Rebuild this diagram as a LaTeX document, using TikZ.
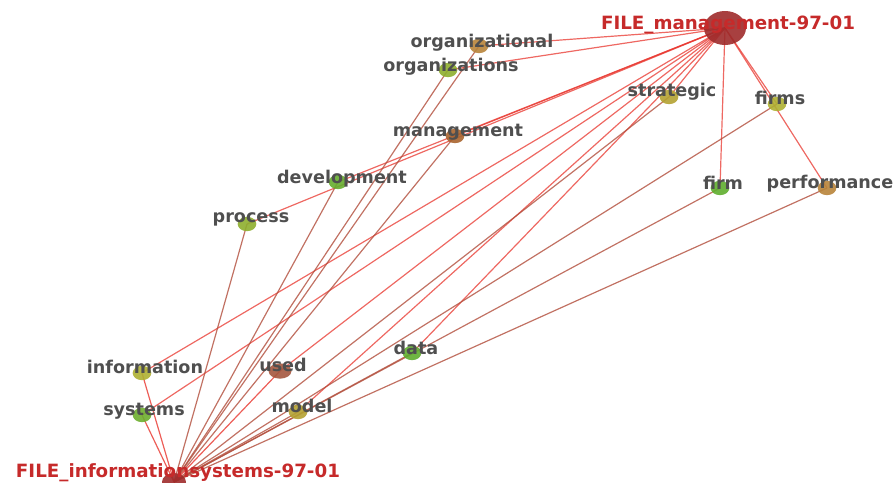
\documentclass[tikz,border=0pt]{standalone}
\usepackage{fontspec}
\setmainfont{DejaVu Sans}
\usetikzlibrary{shapes.geometric,backgrounds}
\definecolor{docDot}{HTML}{9E2B2B}
\definecolor{docText}{HTML}{C62A2A}
\definecolor{lblGray}{HTML}{4F4F4F}
\definecolor{edgeRed}{HTML}{E8362E}
\definecolor{edgeBrown}{HTML}{B24E3C}
\definecolor{cBrown}{HTML}{A8642E}
\definecolor{cOrange}{HTML}{B8843A}
\definecolor{cOlive}{HTML}{B4A232}
\definecolor{cYellow}{HTML}{AEB032}
\definecolor{cLime}{HTML}{8EAE2E}
\definecolor{cGreen}{HTML}{5FAE2E}
\definecolor{cRust}{HTML}{A4573E}
\tikzset{
  term/.style={ellipse, draw=none, inner sep=0pt, minimum width=5.6mm, minimum height=4.3mm, fill opacity=.9},
  doc/.style={term, fill=docDot, minimum width=12.6mm, minimum height=10.2mm},
  lbl/.style={anchor=base, inner sep=0pt, text=lblGray, font=\bfseries\fontsize{15}{18}\selectfont},
  doclbl/.style={lbl, text=docText, font=\bfseries\fontsize{15.6}{18}\selectfont},
  toM/.style={draw=edgeRed, draw opacity=.75, line width=.36mm},
  toI/.style={draw=edgeBrown, draw opacity=.8, line width=.36mm},
  toIr/.style={draw=edgeRed, draw opacity=.8, line width=.36mm},
}
\begin{document}
\begin{tikzpicture}[x=0.3mm,y=-0.3mm]
\useasboundingbox (0,0) rectangle (895,482);
% documents
\node[doc] (fm) at (725,28) {};
\node[doc, minimum width=7.2mm, minimum height=5.4mm] (fi) at (174,482) {};
% terms
\node[term, fill=cOrange] (organizational) at (479,46) {};
\node[term, fill=cLime] (organizations) at (448,70) {};
\node[term, fill=cOlive] (strategic) at (669,97) {};
\node[term, fill=cYellow] (firms) at (777,104) {};
\node[term, fill=cBrown] (management) at (455,136) {};
\node[term, fill=cGreen!85!cLime] (development) at (338,182) {};
\node[term, fill=cGreen] (firm) at (720,188) {};
\node[term, fill=cOrange] (performance) at (827,188) {};
\node[term, fill=cLime] (process) at (247,224) {};
\node[term, fill=cGreen] (data) at (412,353) {};
\node[term, fill=cYellow] (information) at (142,373) {};
\node[term, fill=cRust, minimum width=6.9mm, minimum height=4.6mm] (used) at (280,371) {};
\node[term, fill=cGreen!70!cLime] (systems) at (142,415) {};
\node[term, fill=cOlive] (model) at (298,412) {};
% edges
\begin{pgfonlayer}{background}
\foreach \t in {organizational,organizations,strategic,firms,management,development,firm,performance,process,data,information,used,systems,model}
  \draw[toM] (\t.center) -- (fm.center);
\foreach \t/\s in {organizational/toI,organizations/toI,strategic/toI,firms/toI,management/toI,development/toI,firm/toI,performance/toI,process/toI,data/toI,information/toIr,used/toIr,systems/toIr,model/toI}
  \draw[\s] (\t.center) -- (fi.center);
\end{pgfonlayer}
% labels
\node[doclbl] (fm-l) at (728,29) {FILE\_management-97-01};
\node[doclbl] (fi-l) at (178,477) {FILE\_informationsystems-97-01};
\node[lbl] (organizational-l) at (482,47) {organizational};
\node[lbl] (organizations-l) at (451,71) {organizations};
\node[lbl] (strategic-l) at (672,96) {strategic};
\node[lbl] (firms-l) at (780,104) {firms};
\node[lbl] (management-l) at (458,136) {management};
\node[lbl] (development-l) at (342,183) {development};
\node[lbl] (firm-l) at (723,189) {firm};
\node[lbl] (performance-l) at (830,188) {performance};
\node[lbl] (process-l) at (251,222) {process};
\node[lbl] (data-l) at (416,354) {data};
\node[lbl] (information-l) at (145,373) {information};
\node[lbl] (used-l) at (283,371) {used};
\node[lbl] (systems-l) at (144,415) {systems};
\node[lbl] (model-l) at (302,412) {model};
\end{tikzpicture}
\end{document}
